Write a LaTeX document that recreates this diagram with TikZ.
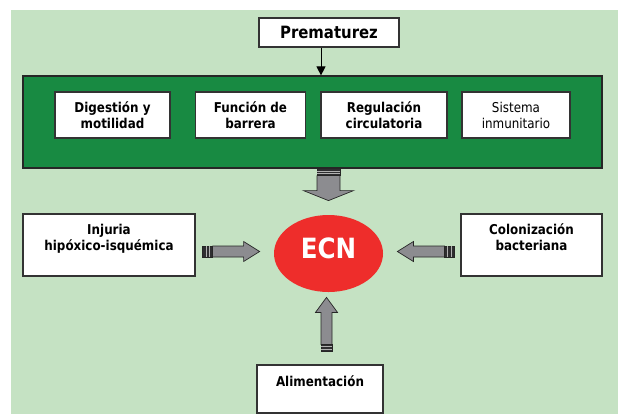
\documentclass[tikz,border=0pt]{standalone}
\usepackage{fontspec}
\setmainfont{DejaVu Sans}[FakeStretch=0.88]
\usetikzlibrary{calc,arrows.meta,shapes.geometric}
\definecolor{bggreen}{HTML}{C5E2C3}
\definecolor{darkgreen}{HTML}{188A42}
\definecolor{ecnred}{HTML}{EE2D2B}
\definecolor{arrowgray}{HTML}{8C8C90}
\definecolor{capdark}{HTML}{2E2E30}
\definecolor{edgegray}{HTML}{333333}
\tikzset{
  whitebox/.style={draw=edgegray, line width=1.2bp, fill=white, inner sep=0pt},
  boldtxt/.style={font=\fontsize{13.6}{16}\selectfont\bfseries, align=center, inner sep=0pt, text=black},
  regtxt/.style={font=\fontsize{13.6}{16}\selectfont, align=center, inner sep=0pt, text=black},
  pics/fatarrow/.style n args={5}{code={
    % #1 length, #2 cap length, #3 shaft half width, #4 head half width, #5 head length
    \path[draw=black!85, line width=0.7bp, fill=arrowgray]
      (#2,-#3) -- ({#1-#5},-#3) -- ({#1-#5},-#4) -- (#1,0) -- ({#1-#5},#4) -- ({#1-#5},#3) -- (#2,#3) -- cycle;
    \path[fill=capdark, draw=black!85, line width=0.7bp] (0,-#3) rectangle (#2,#3);
    \draw[gray!60, line width=0.8bp] ({0.35*#2},-#3) -- ({0.35*#2},#3);
    \draw[gray!60, line width=0.8bp] ({0.7*#2},-#3) -- ({0.7*#2},#3);
  }}
}
\begin{document}
\begin{tikzpicture}[x=1bp,y=-1bp]
\useasboundingbox (0,0) rectangle (618,414);
\fill[bggreen] (11,10) rectangle (618,414);

% top box
\node[whitebox, minimum width=140bp, minimum height=29bp,
      font=\fontsize{17}{19}\selectfont\bfseries] (pre) at (329,32.5) {Prematurez};

% big green box
\node[draw=black!85, line width=1.2bp, fill=darkgreen, minimum width=579bp, minimum height=92bp, inner sep=0pt] (big) at (312.5,122) {};

\node[whitebox, minimum width=115bp, minimum height=46bp] (d1) at (112.5,115) {};
\node[whitebox, minimum width=110bp, minimum height=46bp] (d2) at (250.5,115) {};
\node[whitebox, minimum width=126bp, minimum height=46bp] (d3) at (384,115) {};
\node[whitebox, minimum width=108bp, minimum height=46bp] (d4) at (516,115) {};
\node[boldtxt] (t1) at (d1.center) {Digestión y\\motilidad};
\node[boldtxt] (t2) at (d2.center) {Función de\\barrera};
\node[boldtxt] (t3) at (d3.center) {Regulación\\circulatoria};
\node[regtxt]  (t4) at (d4.center) {Sistema\\inmunitario};

% thin arrow
\coordinate (pa) at (321,0);
\draw[line width=1bp, -{Triangle[length=9bp,width=9bp]}] (pre.south -| pa) -- (big.north -| pa);

% ECN
\node[ellipse, fill=ecnred, minimum width=109bp, minimum height=77bp, inner sep=0pt] (ecn) at (328.5,253.5) {};
\node[text=white, font=\fontsize{28}{28}\selectfont\bfseries, inner sep=0pt] (ecnt) at ($(ecn.center)+(0,-5.5)$) {ECN};

% side boxes
\node[whitebox, minimum width=172bp, minimum height=62bp] (inj) at (109,245) {};
\node[boldtxt, anchor=north] (injt) at ($(inj.north)+(0,11)$) {Injuria\\hipóxico-isquémica};
\node[whitebox, minimum width=141bp, minimum height=62bp] (col) at (531.5,245) {};
\node[boldtxt, anchor=north] (colt) at ($(col.north)+(0,10)$) {Colonización\\bacteriana};
\node[whitebox, minimum width=126bp, minimum height=48bp] (ali) at (320,389) {};
\node[boldtxt, anchor=base] (alit) at ($(ali.north)+(0,22)$) {Alimentación};

% fat arrows
\pic[rotate=-90] at (big.south -| ecn) {fatarrow={32}{7}{11.5}{25}{10}};
\pic at ($(inj.east |- ecn.center)+(7,-2)$) {fatarrow={57}{10}{5.5}{10}{16}};
\pic[rotate=180] at ($(col.west |- ecn.center)+(-6,-2)$) {fatarrow={57}{10}{5.5}{10}{16}};
\pic[rotate=90] at ($(ali.north -| ecn)+(-2,-13)$) {fatarrow={54}{7}{5.5}{11}{15}};
\end{tikzpicture}
\end{document}
